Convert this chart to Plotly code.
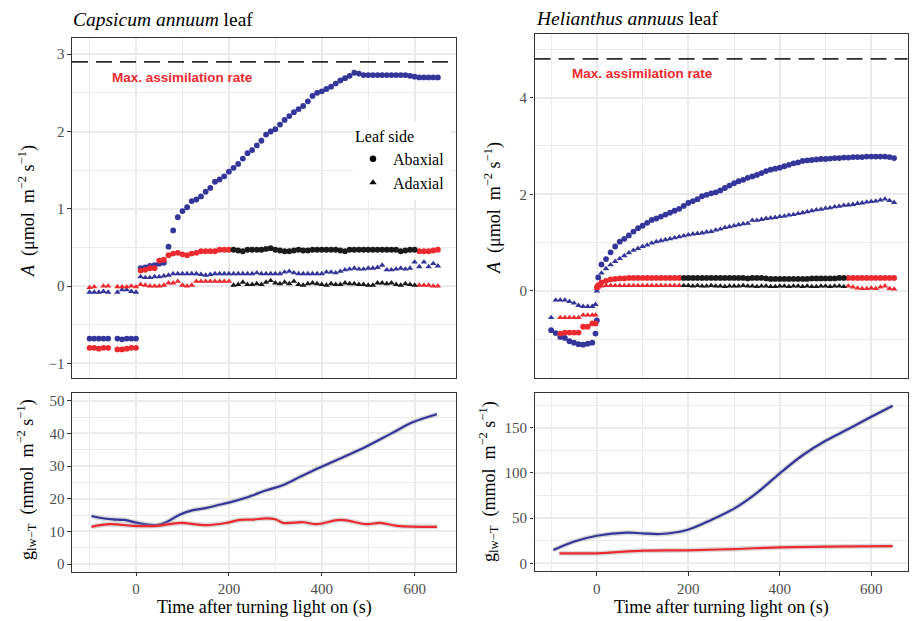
import plotly.graph_objects as go

# ---------------- DATA ----------------
# Capsicum annuum leaf: net assimilation A (umol m-2 s-1), sampled every 10 s
cap_t = list(range(-100, 651, 10))
cap_blue_abaxial = [
    -0.68, -0.68, -0.68, -0.68, -0.68, None, -0.68, -0.69, -0.68, -0.68, -0.68,
    0.23, 0.24, 0.26, 0.27, 0.29, 0.30, 0.51, 0.72, 0.89, 0.97,
    1.02, 1.10, 1.12, 1.16, 1.22, 1.27, 1.35, 1.38, 1.42, 1.48,
    1.53, 1.58, 1.65, 1.72, 1.76, 1.82, 1.88, 1.96, 2.00, 2.03,
    2.09, 2.15, 2.20, 2.25, 2.29, 2.33, 2.39, 2.46, 2.50, 2.52,
    2.55, 2.58, 2.62, 2.66, 2.69, 2.72, 2.76, 2.75, 2.73, 2.73,
    2.73, 2.73, 2.73, 2.73, 2.73, 2.73, 2.73, 2.73, 2.72, 2.71,
    2.70, 2.70, 2.70, 2.70, 2.70]
cap_rb_abaxial = [
    -0.80, -0.80, -0.81, -0.80, -0.80, None, -0.82, -0.82, -0.81, -0.80, -0.80,
    0.20, 0.21, 0.23, 0.23, 0.33, 0.34, 0.40, 0.42, 0.43, 0.41,
    0.40, 0.42, 0.43, 0.45, 0.45, 0.45, 0.45, 0.47, 0.47, 0.47,
    0.47, 0.46, 0.45, 0.47, 0.47, 0.47, 0.47, 0.48, 0.49, 0.47,
    0.46, 0.45, 0.45, 0.46, 0.47, 0.46, 0.46, 0.47, 0.47, 0.47,
    0.47, 0.47, 0.47, 0.46, 0.45, 0.47, 0.47, 0.47, 0.47, 0.47,
    0.47, 0.47, 0.47, 0.47, 0.47, 0.47, 0.45, 0.46, 0.47, 0.47,
    0.45, 0.45, 0.45, 0.46, 0.47]
cap_blue_adaxial = [
    -0.08, -0.08, -0.08, -0.07, -0.08, None, -0.08, -0.05, -0.05, -0.07, -0.08,
    0.12, 0.11, 0.11, 0.12, 0.12, 0.13, 0.14, 0.16, 0.16, 0.16,
    0.16, 0.16, 0.16, 0.15, 0.14, 0.15, 0.16, 0.16, 0.16, 0.16,
    0.16, 0.16, 0.16, 0.16, 0.16, 0.17, 0.16, 0.16, 0.16, 0.16,
    0.16, 0.18, 0.19, 0.17, 0.16, 0.16, 0.16, 0.16, 0.16, 0.16,
    0.18, 0.18, 0.17, 0.19, 0.21, 0.22, 0.23, 0.22, 0.22, 0.23,
    0.23, 0.24, 0.27, 0.21, 0.21, 0.22, 0.23, 0.22, 0.23, 0.31,
    0.25, 0.31, 0.25, 0.29, 0.26]
cap_rb_adaxial = [
    -0.02, -0.01, None, 0.00, 0.00, None, -0.01, -0.01, -0.01, 0.00, -0.01,
    0.02, 0.01, 0.00, 0.00, 0.00, 0.01, 0.04, 0.04, 0.06, 0.01,
    0.00, 0.01, 0.06, 0.06, 0.06, 0.06, 0.06, 0.06, 0.06, 0.06,
    0.01, 0.02, 0.05, 0.02, 0.02, 0.03, 0.02, 0.05, 0.07, 0.04,
    0.03, 0.05, 0.03, 0.06, 0.02, 0.01, 0.03, 0.04, 0.03, 0.02,
    0.01, 0.03, 0.02, 0.02, 0.04, 0.03, 0.03, 0.02, 0.02, 0.01,
    0.01, 0.04, 0.04, 0.03, 0.04, 0.02, 0.01, 0.03, 0.02, 0.01,
    0.01, 0.01, 0.01, 0.00, 0.00]
cap_black_phase = (205, 605)   # period shown in black
cap_max_A = 2.9

# Helianthus annuus leaf
hel_t = list(range(-100, 0, 10)) + [-3, 0, 3] + list(range(10, 651, 10))
hel_blue_abaxial = [
    -0.81, -0.87, -0.95, -0.97, -1.04, -1.07, -1.10, -1.11, -1.09, -1.07,
    -0.88, -0.61, 0.28,
    0.55, 0.66, 0.80, 0.92, 1.02, 1.08, 1.15, 1.23, 1.30, 1.35,
    1.41, 1.47, 1.50, 1.54, 1.58, 1.62, 1.66, 1.70, 1.76, 1.82,
    1.86, 1.90, 1.96, 1.99, 2.02, 2.04, 2.08, 2.13, 2.18, 2.23,
    2.27, 2.30, 2.34, 2.37, 2.40, 2.44, 2.48, 2.51, 2.53, 2.55,
    2.58, 2.61, 2.64, 2.66, 2.69, 2.70, 2.71, 2.72, 2.73, 2.73,
    2.74, 2.75, 2.75, 2.76, 2.76, 2.77, 2.77, 2.77, 2.78, 2.78,
    2.78, 2.78, 2.78, 2.77, 2.75]
hel_blue_adaxial = [
    -0.55, -0.19, -0.19, -0.19, -0.22, -0.25, -0.30, -0.32, -0.32, -0.32,
    -0.28, 0.00, 0.10,
    0.37, 0.46, 0.54, 0.61, 0.67, 0.73, 0.79, 0.84, 0.88, 0.92,
    0.95, 0.99, 1.02, 1.04, 1.06, 1.08, 1.10, 1.12, 1.14, 1.16,
    1.18, 1.19, 1.20, 1.22, 1.23, 1.26, 1.28, 1.31, 1.33, 1.35,
    1.37, 1.39, 1.40, 1.46, 1.46, 1.48, 1.50, 1.51, 1.52, 1.54,
    1.55, 1.57, 1.58, 1.60, 1.62, 1.64, 1.66, 1.68, 1.69, 1.71,
    1.72, 1.74, 1.75, 1.77, 1.78, 1.79, 1.81, 1.82, 1.84, 1.85,
    1.86, 1.88, 1.90, 1.87, 1.83]
hel_rb_abaxial = [
    None, None, -0.88, -0.86, -0.86, -0.86, -0.86, -0.74, -0.74, -0.67,
    -0.67, 0.08, 0.12,
    0.18, 0.21, 0.24, 0.25, 0.26, 0.26, 0.27, 0.27, 0.27, 0.27,
    0.27, 0.27, 0.27, 0.27, 0.27, 0.27, 0.27, 0.27, 0.27, 0.27,
    0.27, 0.27, 0.27, 0.27, 0.27, 0.27, 0.27, 0.27, 0.27, 0.27,
    0.27, 0.27, 0.26, 0.27, 0.27, 0.27, 0.26, 0.25, 0.25, 0.25,
    0.25, 0.25, 0.25, 0.25, 0.25, 0.25, 0.26, 0.26, 0.26, 0.26,
    0.26, 0.26, 0.27, 0.27, 0.27, 0.27, 0.27, 0.27, 0.27, 0.27,
    0.27, 0.27, 0.27, 0.27, 0.27]
hel_rb_adaxial = [
    None, None, -0.55, -0.55, -0.55, -0.55, -0.55, -0.50, -0.50, -0.50,
    -0.50, 0.05, 0.08,
    0.10, 0.11, 0.11, 0.11, 0.11, 0.11, 0.11, 0.11, 0.11, 0.11,
    0.11, 0.11, 0.11, 0.11, 0.11, 0.11, 0.11, 0.11, 0.11, 0.11,
    0.10, 0.11, 0.10, 0.10, 0.11, 0.10, 0.10, 0.09, 0.10, 0.10,
    0.10, 0.11, 0.10, 0.10, 0.09, 0.10, 0.10, 0.09, 0.09, 0.10,
    0.10, 0.09, 0.10, 0.10, 0.09, 0.10, 0.09, 0.09, 0.10, 0.10,
    0.09, 0.10, 0.10, 0.09, 0.10, 0.08, 0.06, 0.05, 0.05, 0.06,
    0.05, 0.08, 0.10, 0.05, 0.04]
hel_black_phase = (185, 545)
hel_max_A = 4.8

# Smoothed leaf-to-air water-vapour conductance g_lw-T (mmol m-2 s-1)
cap_g_blue_t = [-96, -75, -50, -25, 0, 25, 45, 66, 95, 123, 152, 175, 202, 238, 281, 317, 353, 396, 447, 497, 547, 597, 648]
cap_g_blue = [14.7, 14.1, 13.7, 13.5, 12.7, 12.1, 11.9, 12.9, 15.2, 16.5, 17.2, 18.0, 18.9, 20.4, 22.6, 24.2, 26.7, 29.6, 32.8, 36.1, 39.8, 43.5, 45.9]
cap_g_red_t = [-96, -56, -6, 45, 95, 152, 195, 224, 250, 281, 300, 317, 360, 389, 440, 497, 526, 562, 648]
cap_g_red = [11.4, 12.2, 11.7, 11.7, 12.6, 11.9, 12.6, 13.5, 13.6, 14.0, 13.7, 12.6, 12.8, 12.2, 13.5, 12.2, 12.6, 11.7, 11.4]
hel_g_blue_t = [-95, -51, 0, 66, 100, 138, 197, 250, 300, 350, 400, 450, 500, 550, 600, 647]
hel_g_blue = [14.7, 23.9, 30.5, 33.9, 33.2, 32.4, 36.8, 48.0, 60.5, 78.0, 99.5, 119.5, 135.5, 148.5, 162.0, 174.3]
hel_g_red_t = [-82, 0, 102, 197, 299, 401, 503, 647]
hel_g_red = [11.1, 11.1, 14.0, 14.4, 15.8, 17.7, 18.4, 19.1]

leaf_sides = ["Abaxial", "Adaxial"]

# ---------------- STYLE ----------------
W, H = 914, 621
BLUE = "#33359A"
RED = "#EC2A2E"
BLACK = "#1A1A1A"
SERIF = "Liberation Serif"
SANS = "Liberation Sans"
SYM = {"Abaxial": "circle", "Adaxial": "triangle-up"}
MS = 5.8


def fx(p):
    return p / W


def fy(p):
    return 1 - p / H


fig = go.Figure()


def pts(xa, ya, t, vals, color, side):
    fig.add_trace(go.Scatter(
        x=t, y=vals, mode="markers", xaxis=xa, yaxis=ya,
        marker=dict(color=color, symbol=SYM[side], size=MS, line=dict(width=0)),
        showlegend=False, hoverinfo="skip"))


def split(t, vals, phase):
    inside = [phase[0] < ti < phase[1] for ti in t]
    red = [None if b else v for v, b in zip(vals, inside)]
    black = [v if b else None for v, b in zip(vals, inside)]
    return red, black


# top-left: Capsicum
pts("x", "y", cap_t, cap_blue_abaxial, BLUE, "Abaxial")
pts("x", "y", cap_t, cap_blue_adaxial, BLUE, "Adaxial")
r, b = split(cap_t, cap_rb_abaxial, cap_black_phase)
pts("x", "y", cap_t, r, RED, "Abaxial")
pts("x", "y", cap_t, b, BLACK, "Abaxial")
r, b = split(cap_t, cap_rb_adaxial, cap_black_phase)
pts("x", "y", cap_t, r, RED, "Adaxial")
pts("x", "y", cap_t, b, BLACK, "Adaxial")

# top-right: Helianthus
pts("x3", "y3", hel_t, hel_blue_abaxial, BLUE, "Abaxial")
pts("x3", "y3", hel_t, hel_blue_adaxial, BLUE, "Adaxial")
r, b = split(hel_t, hel_rb_abaxial, hel_black_phase)
pts("x3", "y3", hel_t, r, RED, "Abaxial")
pts("x3", "y3", hel_t, b, BLACK, "Abaxial")
r, b = split(hel_t, hel_rb_adaxial, hel_black_phase)
pts("x3", "y3", hel_t, r, RED, "Adaxial")
pts("x3", "y3", hel_t, b, BLACK, "Adaxial")


def smooth(xa, ya, t, vals, color):
    fig.add_trace(go.Scatter(x=t, y=vals, mode="lines", xaxis=xa, yaxis=ya,
                             line=dict(color="rgba(150,150,150,0.35)", width=5, shape="spline", smoothing=1),
                             showlegend=False, hoverinfo="skip"))
    fig.add_trace(go.Scatter(x=t, y=vals, mode="lines", xaxis=xa, yaxis=ya,
                             line=dict(color=color, width=2.2, shape="spline", smoothing=1),
                             showlegend=False, hoverinfo="skip"))


smooth("x2", "y2", cap_g_blue_t, cap_g_blue, BLUE)
smooth("x2", "y2", cap_g_red_t, cap_g_red, RED)
smooth("x4", "y4", hel_g_blue_t, hel_g_blue, BLUE)
smooth("x4", "y4", hel_g_red_t, hel_g_red, RED)

# legend entries (shape = leaf side)
for side in leaf_sides:
    fig.add_trace(go.Scatter(x=[None], y=[None], mode="markers", xaxis="x", yaxis="y",
                             marker=dict(color="black", symbol=SYM[side], size=6.5),
                             name=side, showlegend=True))

# max assimilation dashed lines
for xr, yr, val in [("x", "y", cap_max_A), ("x3", "y3", hel_max_A)]:
    fig.add_shape(type="line", xref=f"{xr} domain", yref=yr, x0=0, x1=1, y0=val, y1=val,
                  line=dict(color="#2B2B2B", width=1.8, dash="16px,8px"), layer="above")

grid = "#EBEBEB"
TICKFONT = dict(family=SERIF, size=15, color="#4D4D4D")


def axis(domain, anchor, rng, dtick, mdtick, labels=True):
    d = dict(domain=domain, anchor=anchor, range=rng, tick0=0, dtick=dtick,
             showgrid=True, gridcolor=grid, gridwidth=1.5, zeroline=False,
             showline=True, mirror=True, linecolor="#333333", linewidth=1.1,
             minor=dict(tick0=0, dtick=mdtick, showgrid=True, gridcolor=grid, gridwidth=0.7),
             tickfont=TICKFONT)
    if labels:
        d.update(ticks="outside", ticklen=3.5, tickwidth=1.1, tickcolor="#333333", showticklabels=True)
    else:
        d.update(ticks="", showticklabels=False)
    return d


xL = [fx(72), fx(456)]
xR = [fx(534.5), fx(907.5)]
fig.update_layout(
    width=W, height=H, margin=dict(l=0, r=0, t=0, b=0),
    paper_bgcolor="white", plot_bgcolor="white",
    font=dict(family=SERIF, size=15, color="black"),
    xaxis=axis(xL, "y", [-137.8, 689], 200, 100, labels=False),
    yaxis=axis([fy(378), fy(38)], "x", [-1.19, 3.21], 1, 0.5),
    xaxis2=axis(xL, "y2", [-137.8, 689], 200, 100),
    yaxis2=axis([fy(571.7), fy(393.3)], "x2", [-2.35, 52.3], 10, 5),
    xaxis3=axis(xR, "y3", [-136.4, 679.3], 200, 100, labels=False),
    yaxis3=axis([fy(378), fy(34.3)], "x3", [-1.80, 5.31], 2, 1),
    xaxis4=axis(xR, "y4", [-136.4, 679.3], 200, 100),
    yaxis4=axis([fy(571), fy(392.7)], "x4", [-8.5, 188.7], 50, 25),
    legend=dict(x=fx(353), y=fy(121), xanchor="left", yanchor="top", bgcolor="white",
                borderwidth=0, tracegroupgap=0,
                title=dict(text="Leaf side", font=dict(family=SERIF, size=16, color="black")),
                font=dict(family=SERIF, size=16, color="black")),
    showlegend=True,
)
fig.update_xaxes(tickfont=TICKFONT)
fig.update_yaxes(tickfont=TICKFONT)

ann = []
# panel titles
ann.append(dict(text="<i>Capsicum annuum</i> leaf", x=fx(71), y=fy(19), xref="paper", yref="paper",
                xanchor="left", yanchor="middle", showarrow=False,
                font=dict(family=SERIF, size=19.5, color="black")))
ann.append(dict(text="<i>Helianthus annuus</i> leaf", x=fx(533.5), y=fy(18.5), xref="paper", yref="paper",
                xanchor="left", yanchor="middle", showarrow=False,
                font=dict(family=SERIF, size=19.5, color="black")))
# max assimilation labels
for xr, yr, lx, ly in [("x", "y", 100, 2.70), ("x3", "y3", 100, 4.49)]:
    ann.append(dict(text="<b>Max. assimilation rate</b>", x=lx, y=ly, xref=xr, yref=yr,
                    showarrow=False, font=dict(family=SANS, size=13.5, color=RED)))
# axis titles
A_title = "<i>A</i>  (μmol  m<sup>−2</sup> s<sup>−1</sup>)"
g_title = "g<sub>lw−T</sub>  (mmol  m<sup>−2</sup> s<sup>−1</sup>)"
for txt, px_, py_ in [(A_title, 27, 211), (A_title, 493, 208), (g_title, 26, 480), (g_title, 488, 482)]:
    ann.append(dict(text=txt, x=fx(px_), y=fy(py_), xref="paper", yref="paper", textangle=-90,
                    xanchor="center", yanchor="middle", showarrow=False,
                    font=dict(family=SERIF, size=18, color="black")))
for cx in [264, 721]:
    ann.append(dict(text="Time after turning light on (s)", x=fx(cx), y=fy(607), xref="paper", yref="paper",
                    xanchor="center", yanchor="middle", showarrow=False,
                    font=dict(family=SERIF, size=18, color="black")))
fig.update_layout(annotations=ann)

fig.write_html("out.html", config={"displayModeBar": False},
               post_script="document.body.style.margin='0px';document.body.style.padding='0px';")
